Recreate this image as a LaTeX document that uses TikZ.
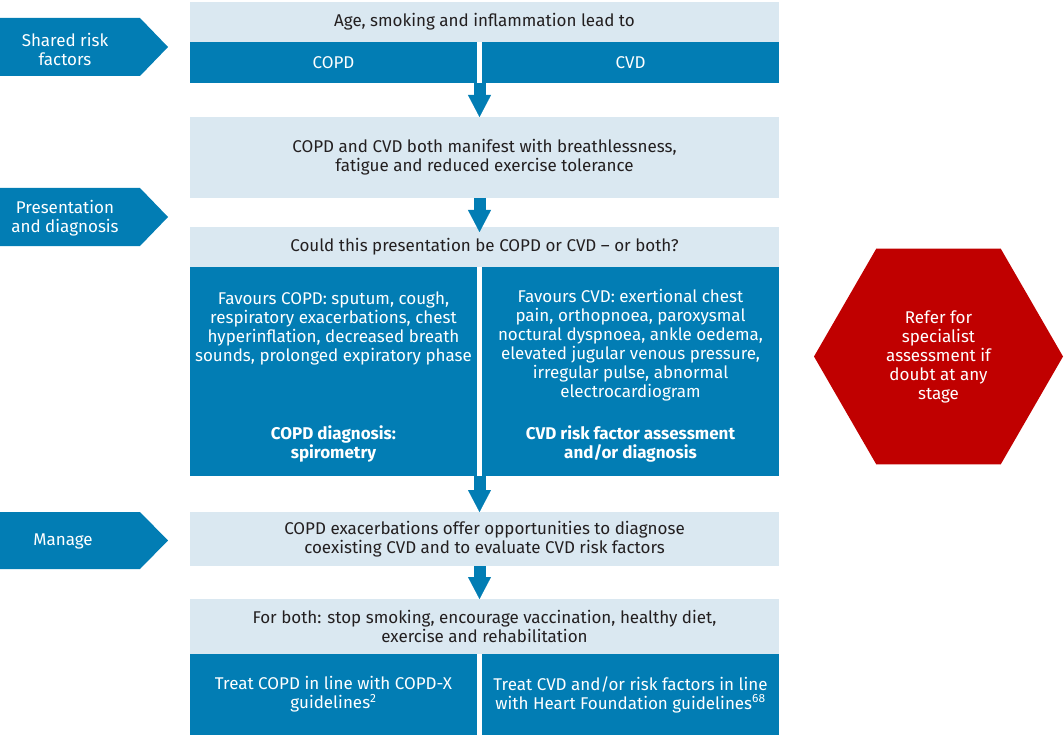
\documentclass[tikz,border=0pt]{standalone}
\usepackage{fontspec}
\setmainfont{Fira Sans}
\usetikzlibrary{shapes.geometric,arrows.meta,positioning}
\definecolor{mjablue}{RGB}{2,125,180}
\definecolor{mjalight}{RGB}{218,232,241}
\definecolor{mjared}{RGB}{192,0,0}
\definecolor{mjatext}{RGB}{35,31,32}

\tikzset{
	pale/.style={fill=mjalight,text=mjatext,inner sep=0pt,outer sep=0pt,anchor=north west,align=center,font=\fontsize{17pt}{19pt}\selectfont},
	deep/.style={fill=mjablue,text=white,inner sep=0pt,outer sep=0pt,anchor=north west,align=center,font=\fontsize{17pt}{19pt}\selectfont},
	onblue/.style={text=white,inner sep=0pt,align=center,font=\fontsize{17pt}{19pt}\selectfont},
	tab/.style={fill=mjablue},
	hexa/.style={regular polygon,regular polygon sides=6,minimum size=249pt,fill=mjared,text=white,inner sep=0pt,align=center,font=\fontsize{17pt}{19pt}\selectfont},
	flow/.style={draw=mjablue,line width=12pt,-{Triangle[width=23pt,length=22pt,line width=0.1pt]}}
}

\begin{document}
\begin{tikzpicture}[x=1pt,y=-1pt]
	\useasboundingbox (0,0) rectangle (1064,735);
	\path (479.5,0) coordinate (mid);
	% stage tabs
	\fill[tab] (0,18) -- (140,18) -- (168,47) -- (140,76) -- (0,76) -- cycle;
	\node[onblue] (shared) at (65,49) {Shared risk\\factors};
	\fill[tab] (0,188) -- (140,188) -- (168,217) -- (140,246) -- (0,246) -- cycle;
	\node[onblue] (present) at (65,218) {Presentation\\and diagnosis};
	\fill[tab] (0,512) -- (140,512) -- (168,540.5) -- (140,569) -- (0,569) -- cycle;
	\node[onblue] (manage) at (63,541) {Manage};
	% risk factors
	\node[pale,minimum width=589pt,minimum height=40pt] (age) at (190,2) {Age, smoking and inflammation lead to};
	\node[deep,minimum width=287pt,minimum height=41pt] (copdbar) at (190,42) {COPD};
	\node[deep,minimum width=297pt,minimum height=41pt] (cvdbar) at (482,42) {CVD};
	% presentation
	\node[pale,minimum width=589pt,minimum height=81pt] (manifest) at (190,117) {COPD and CVD both manifest with breathlessness,\\fatigue and reduced exercise tolerance};
	\node[pale,minimum width=589pt,minimum height=40pt] (could) at (190,227) {Could this presentation be COPD or CVD -- or both?};
	\node[deep,minimum width=287pt,minimum height=209pt] (copdhalf) at (190,267) {};
	\node[deep,minimum width=297pt,minimum height=209pt] (cvdhalf) at (482,267) {};
	\node[onblue,anchor=north] (favcopd) at ([yshift=-25pt]copdhalf.north) {Favours COPD: sputum, cough,\\respiratory exacerbations, chest\\hyperinflation, decreased breath\\sounds, prolonged expiratory phase};
	\node[onblue,anchor=north] (favcvd) at ([yshift=-22pt]cvdhalf.north) {Favours CVD: exertional chest\\pain, orthopnoea, paroxysmal\\noctural dyspnoea, ankle oedema,\\elevated jugular venous pressure,\\irregular pulse, abnormal\\electrocardiogram};
	\node[onblue,font=\fontsize{17pt}{19pt}\selectfont\bfseries] (spiro) at ([yshift=32pt]copdhalf.south) {COPD diagnosis:\\spirometry};
	\node[onblue,font=\fontsize{17pt}{19pt}\selectfont\bfseries] (riskdx) at ([yshift=32pt]cvdhalf.south) {CVD risk factor assessment\\and/or diagnosis};
	% manage
	\node[pale,minimum width=589pt,minimum height=54pt] (exac) at (190,512) {COPD exacerbations offer opportunities to diagnose\\coexisting CVD and to evaluate CVD risk factors};
	\node[pale,minimum width=589pt,minimum height=55pt] (both) at (190,599) {For both: stop smoking, encourage vaccination, healthy diet,\\exercise and rehabilitation};
	\node[deep,minimum width=287pt,minimum height=81pt] (treatcopd) at (190,654) {Treat COPD in line with COPD-X\\guidelines\textsuperscript{2}};
	\node[deep,minimum width=297pt,minimum height=81pt] (treatcvd) at (482,654) {Treat CVD and/or risk factors in line\\with Heart Foundation guidelines\textsuperscript{68}};
	% specialist
	\node[hexa] (refer) at (938.5,356.5) {Refer for\\specialist\\assessment if\\doubt at any\\stage};
	% arrows
	\draw[flow] (copdbar.south -| mid) -- (manifest.north -| mid);
	\draw[flow] (manifest.south -| mid) -- ([yshift=-5pt]could.north -| mid);
	\draw[flow] (copdhalf.south -| mid) -- (exac.north -| mid);
	\draw[flow] (exac.south -| mid) -- (both.north -| mid);
\end{tikzpicture}
\end{document}
